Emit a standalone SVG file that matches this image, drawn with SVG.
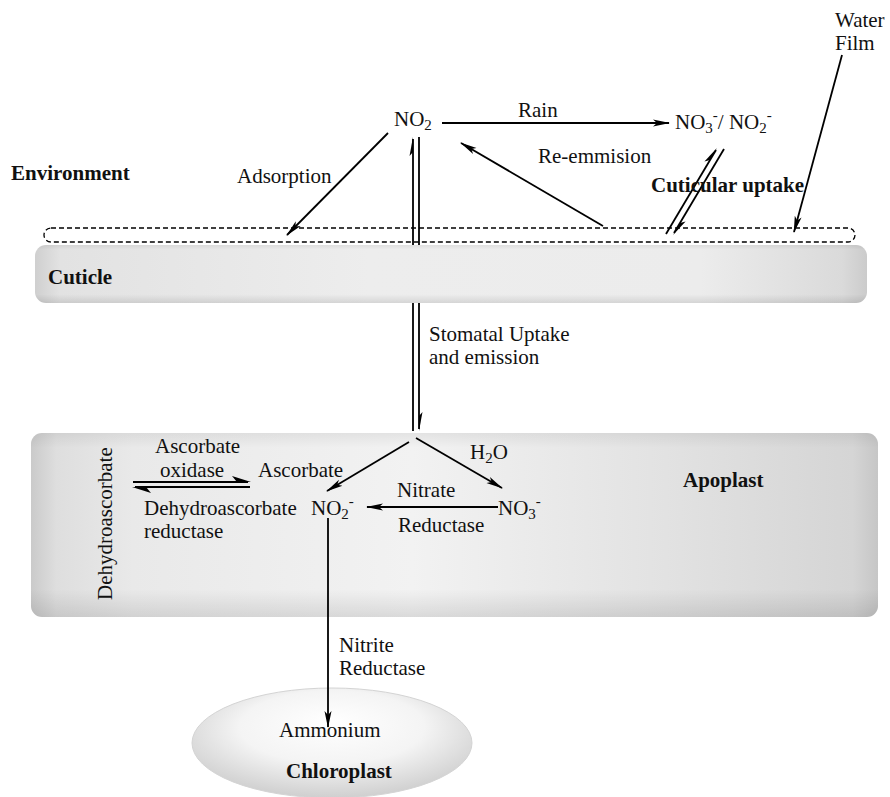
<svg xmlns="http://www.w3.org/2000/svg" width="890" height="797" viewBox="0 0 890 797">
<style>
text{font-family:"Liberation Serif","Times New Roman",serif;font-size:21px;fill:#111}
.b{font-weight:bold}
.c{stroke:#000;fill:none;stroke-width:1.8}
.h{fill:#000;stroke:none}
</style>
<defs>
<marker id="ah" markerUnits="userSpaceOnUse" markerWidth="17" markerHeight="9" refX="16" refY="4.5" orient="auto">
<path d="M0,1 L17,4.5 L0,8 L4,4.5 z" fill="#000"/>
</marker>
<linearGradient id="gh" x1="0" y1="0" x2="1" y2="0">
<stop offset="0" stop-color="#cacaca"/>
<stop offset="0.03" stop-color="#dedede"/>
<stop offset="0.12" stop-color="#e9e9e9"/>
<stop offset="0.45" stop-color="#f2f2f2"/>
<stop offset="0.75" stop-color="#e2e2e2"/>
<stop offset="0.97" stop-color="#d5d5d5"/>
<stop offset="1" stop-color="#c6c6c6"/>
</linearGradient>
<linearGradient id="gv" x1="0" y1="0" x2="0" y2="1">
<stop offset="0" stop-color="#000" stop-opacity="0.06"/>
<stop offset="0.08" stop-color="#000" stop-opacity="0"/>
<stop offset="0.85" stop-color="#000" stop-opacity="0"/>
<stop offset="1" stop-color="#000" stop-opacity="0.1"/>
</linearGradient>
<linearGradient id="gc" x1="0" y1="0" x2="1" y2="0">
<stop offset="0" stop-color="#cfcfcf"/>
<stop offset="0.03" stop-color="#e2e2e2"/>
<stop offset="0.4" stop-color="#ededed"/>
<stop offset="0.8" stop-color="#ececec"/>
<stop offset="0.97" stop-color="#dadada"/>
<stop offset="1" stop-color="#cbcbcb"/>
</linearGradient>
<radialGradient id="gr" cx="0.5" cy="0.4" r="0.6" fx="0.5" fy="0.3">
<stop offset="0" stop-color="#ffffff"/>
<stop offset="0.55" stop-color="#f4f4f4"/>
<stop offset="1" stop-color="#cfcfcf"/>
</radialGradient>
</defs>
<rect width="890" height="797" fill="#fff"/>

<g id="connectors">
<line class="c" x1="413" y1="139" x2="413" y2="431" stroke-width="1.6"/>
<polygon class="h" points="413,137 409.5,156 413,152"/>
<line class="c" x1="419" y1="137" x2="419" y2="429" stroke-width="1.6"/>
<polygon class="h" points="419,431 422.5,412 419,416"/>
<line class="c" x1="388" y1="133" x2="287" y2="235" marker-end="url(#ah)"/>
<line class="c" x1="442" y1="123" x2="669" y2="123" stroke-width="2.2" marker-end="url(#ah)"/>
<line class="c" x1="603" y1="226" x2="461" y2="143" stroke-width="1.6" marker-end="url(#ah)"/>
<line class="c" x1="666" y1="234" x2="716" y2="150" stroke-width="1.5"/>
<polygon class="h" points="717,148 704.4,161.5 709.9,160"/>
<line class="c" x1="724" y1="149" x2="674" y2="233" stroke-width="1.5"/>
<polygon class="h" points="673,235 685.6,221.5 680.1,223"/>
<line class="c" x1="842" y1="55" x2="794" y2="232" marker-end="url(#ah)"/>
</g>

<g id="water-film">
<rect x="44" y="228" width="811" height="14" rx="7" fill="none" stroke="#000" stroke-width="1.3" stroke-dasharray="5,3"/>
</g>

<g id="cuticle">
<rect x="35" y="245" width="832" height="58" rx="11" fill="url(#gc)"/>
<rect x="35" y="245" width="832" height="58" rx="11" fill="url(#gv)"/>
<text class="b" x="48" y="284">Cuticle</text>
</g>

<g id="apoplast">
<rect x="31" y="433" width="847" height="184" rx="11" fill="url(#gh)"/>
<rect x="31" y="433" width="847" height="184" rx="11" fill="url(#gv)"/>
<text class="b" x="683" y="487">Apoplast</text>
</g>

<g id="chloroplast">
<ellipse cx="332" cy="743" rx="140" ry="55" fill="url(#gr)" stroke="#d4d4d4" stroke-width="1"/>
<text x="279" y="737">Ammonium</text>
<text class="b" x="286" y="778">Chloroplast</text>
</g>

<g id="connectors-inner">
<line class="c" x1="409" y1="442" x2="327" y2="491" marker-end="url(#ah)"/>
<line class="c" x1="416" y1="438" x2="502" y2="488" marker-end="url(#ah)"/>
<line class="c" x1="498" y1="507" x2="367" y2="507" stroke-width="2" marker-end="url(#ah)"/>
<line class="c" x1="133" y1="482" x2="248" y2="482" stroke-width="2.2"/>
<polygon class="h" points="251,482 232,476 237,482"/>
<line class="c" x1="135" y1="487" x2="250" y2="487" stroke-width="2.2"/>
<polygon class="h" points="132,487 151,493 146,487"/>
<line class="c" x1="328" y1="518" x2="328" y2="727" stroke-width="2" marker-end="url(#ah)"/>
</g>

<g id="labels-environment">
<text x="835" y="27">Water</text>
<text x="835" y="50">Film</text>
<text class="b" x="11" y="180">Environment</text>
<text x="237" y="183">Adsorption</text>
<text x="518" y="117">Rain</text>
<text x="538" y="163">Re-emmision</text>
<text class="b" x="651" y="192">Cuticular uptake</text>
</g>

<g id="node-no2">
<text x="394" y="126">NO<tspan dy="4" font-size="15">2</tspan></text>
</g>

<g id="node-no3-no2">
<text x="675" y="129">NO<tspan dy="4" font-size="15">3</tspan><tspan dy="-13" font-size="15">-</tspan><tspan dy="9">/ NO</tspan><tspan dy="4" font-size="15">2</tspan><tspan dy="-13" font-size="15">-</tspan></text>
</g>

<g id="label-stomatal">
<text x="429" y="341">Stomatal Uptake</text>
<text x="429" y="364">and emission</text>
</g>

<g id="node-ascorbate">
<text x="155" y="453">Ascorbate</text>
<text x="160" y="477">oxidase</text>
<text x="258" y="477">Ascorbate</text>
<text x="144" y="515">Dehydroascorbate</text>
<text x="144" y="538">reductase</text>
<text transform="translate(112,600) rotate(-90)">Dehydroascorbate</text>
</g>

<g id="node-apoplast-no2">
<text x="311" y="515">NO<tspan dy="4" font-size="15">2</tspan><tspan dy="-13" font-size="15">-</tspan></text>
</g>

<g id="node-apoplast-no3">
<text x="498" y="515">NO<tspan dy="4" font-size="15">3</tspan><tspan dy="-13" font-size="15">-</tspan></text>
</g>

<g id="labels-apoplast">
<text x="470" y="459">H<tspan dy="4" font-size="15">2</tspan><tspan dy="-4">O</tspan></text>
<text x="397" y="497">Nitrate</text>
<text x="398" y="532">Reductase</text>
<text x="339" y="652">Nitrite</text>
<text x="339" y="675">Reductase</text>
</g>
</svg>
